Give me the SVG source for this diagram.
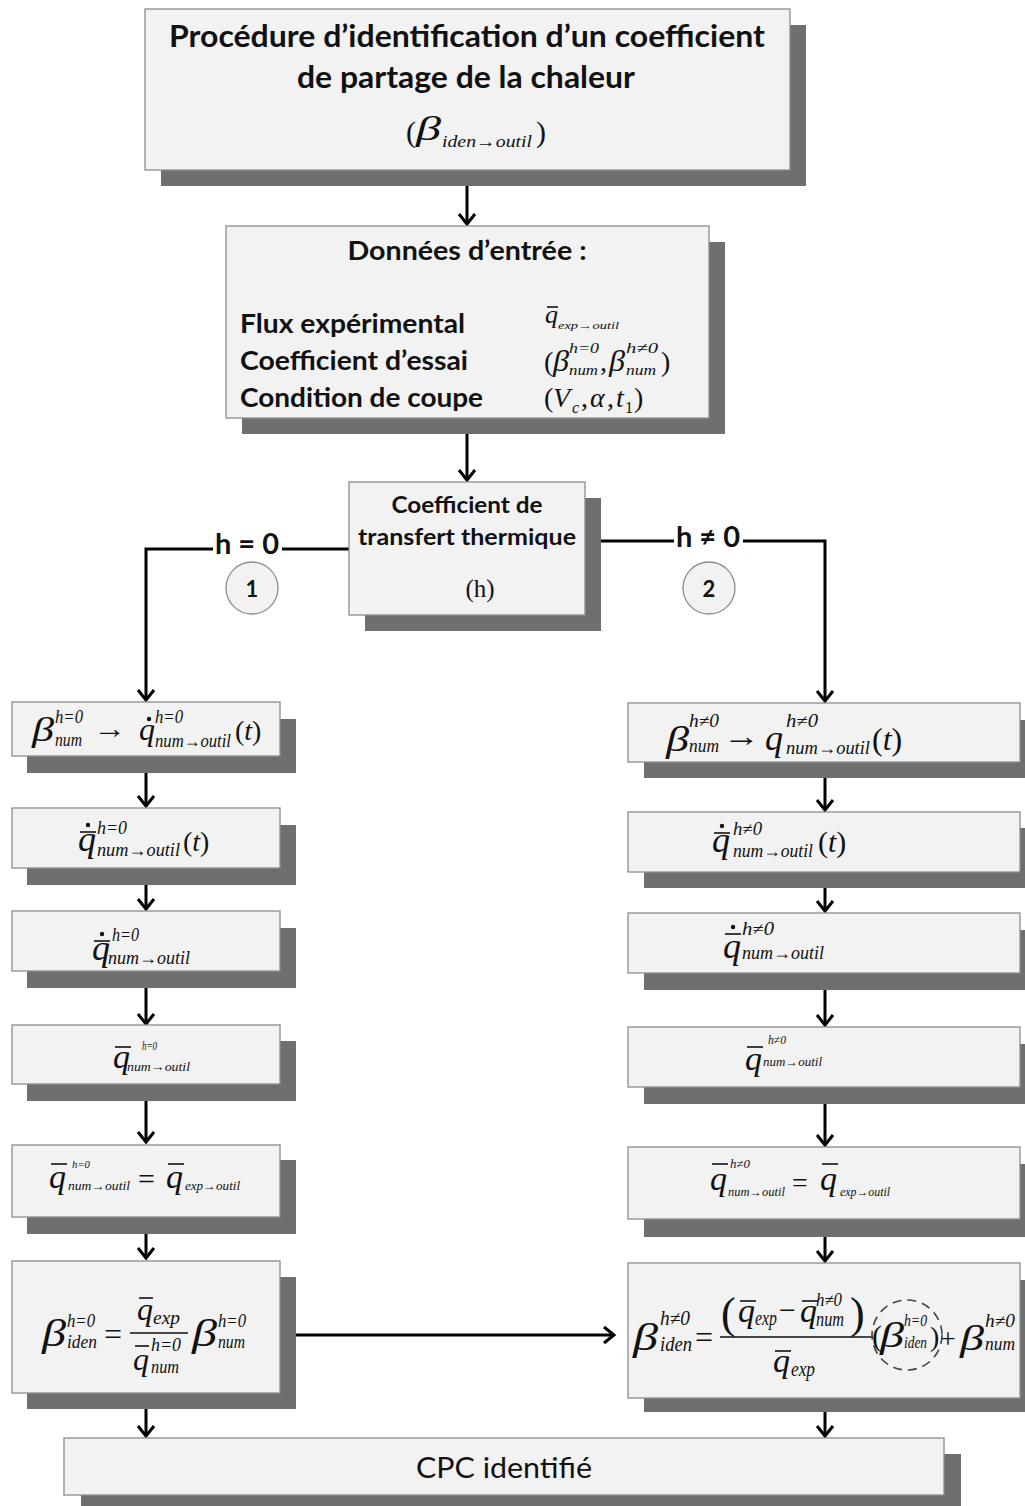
<svg xmlns="http://www.w3.org/2000/svg" width="1025" height="1506" viewBox="0 0 1025 1506">
<defs>
<style>
.box{fill:#f2f2f2;stroke:#8c8c8c;stroke-width:1.3}
.sh{fill:#6f6f6f}
.t{font-family:Lato,"Open Sans","Liberation Sans",sans-serif;font-weight:bold;fill:#111}
.n{font-family:Lato,"Open Sans","Liberation Sans",sans-serif;fill:#111}
.m{font-family:"Liberation Serif","Times New Roman",serif;font-style:italic;fill:#111}
.r{font-family:"Liberation Serif","Times New Roman",serif;fill:#111}
.ln{stroke:#000;stroke-width:3;fill:none}
.bar{stroke:#111;stroke-width:1.6}
.circ{fill:#f2f2f2;stroke:#8c8c8c;stroke-width:1.3}
</style>
<marker id="ah" markerUnits="userSpaceOnUse" markerWidth="24" markerHeight="24" viewBox="-12 -12 24 24" refX="0" refY="0" orient="auto">
<path d="M-10,-8 L0,0 L-10,8" fill="none" stroke="#000" stroke-width="3"/>
</marker>
</defs>
<rect width="1025" height="1506" fill="#fff"/>

<!-- connectors -->
<g id="connectors">
<line class="ln" x1="467" y1="171" x2="467" y2="224" marker-end="url(#ah)"/>
<line class="ln" x1="467" y1="418" x2="467" y2="480" marker-end="url(#ah)"/>
<polyline class="ln" points="349,549 146,549 146,700" marker-end="url(#ah)"/>
<polyline class="ln" points="601,541 825,541 825,701" marker-end="url(#ah)"/>
<line class="ln" x1="146" y1="757" x2="146" y2="806" marker-end="url(#ah)"/>
<line class="ln" x1="146" y1="869" x2="146" y2="909" marker-end="url(#ah)"/>
<line class="ln" x1="146" y1="972" x2="146" y2="1024" marker-end="url(#ah)"/>
<line class="ln" x1="146" y1="1085" x2="146" y2="1142" marker-end="url(#ah)"/>
<line class="ln" x1="146" y1="1218" x2="146" y2="1258" marker-end="url(#ah)"/>
<line class="ln" x1="146" y1="1394" x2="146" y2="1436" marker-end="url(#ah)"/>
<line class="ln" x1="825" y1="763" x2="825" y2="810" marker-end="url(#ah)"/>
<line class="ln" x1="825" y1="873" x2="825" y2="911" marker-end="url(#ah)"/>
<line class="ln" x1="825" y1="974" x2="825" y2="1025" marker-end="url(#ah)"/>
<line class="ln" x1="825" y1="1088" x2="825" y2="1145" marker-end="url(#ah)"/>
<line class="ln" x1="825" y1="1220" x2="825" y2="1261" marker-end="url(#ah)"/>
<line class="ln" x1="825" y1="1399" x2="825" y2="1436" marker-end="url(#ah)"/>
<line class="ln" x1="296" y1="1335" x2="614" y2="1335" marker-end="url(#ah)"/>
</g>

<!-- branch labels -->
<g id="label-h0">
<rect x="213" y="523" width="69" height="44" fill="#fff"/>
<text class="t" x="247" y="554" font-size="29" text-anchor="middle">h = 0</text>
</g>
<g id="label-hn0">
<rect x="674" y="516" width="69" height="42" fill="#fff"/>
<text class="t" x="708" y="547" font-size="29" text-anchor="middle">h ≠ 0</text>
</g>
<g id="circle-1">
<circle class="circ" cx="252" cy="588" r="26"/>
<text class="t" x="252" y="597" font-size="22" text-anchor="middle">1</text>
</g>
<g id="circle-2">
<circle class="circ" cx="709" cy="588" r="26"/>
<text class="t" x="709" y="597" font-size="22" text-anchor="middle">2</text>
</g>

<!-- title -->
<g id="title">
<rect class="sh" x="161" y="25" width="645" height="161"/>
<rect class="box" x="145" y="9" width="645" height="161"/>
<text class="t" x="467" y="47" font-size="30" text-anchor="middle" textLength="596" lengthAdjust="spacingAndGlyphs">Procédure d’identification d’un coefficient</text>
<text class="t" x="466" y="88" font-size="30" text-anchor="middle" textLength="338" lengthAdjust="spacingAndGlyphs">de partage de la chaleur</text>
<text class="r" x="406" y="142" font-size="30">(</text>
<text class="m" x="416" y="140" font-size="34" textLength="25" lengthAdjust="spacingAndGlyphs">β</text>
<text class="m" x="442" y="147" font-size="17" textLength="90" lengthAdjust="spacingAndGlyphs">iden→outil</text>
<text class="r" x="536" y="142" font-size="30">)</text>
</g>

<!-- input data -->
<g id="inputs">
<rect class="sh" x="242" y="242" width="483" height="192"/>
<rect class="box" x="226" y="226" width="483" height="192"/>
<text class="t" x="467" y="260" font-size="26" text-anchor="middle" textLength="239" lengthAdjust="spacingAndGlyphs">Données d’entrée :</text>
<text class="t" x="240" y="333" font-size="26" textLength="225" lengthAdjust="spacingAndGlyphs">Flux expérimental</text>
<text class="t" x="240" y="370" font-size="26" textLength="228" lengthAdjust="spacingAndGlyphs">Coefficient d’essai</text>
<text class="t" x="240" y="407" font-size="26" textLength="243" lengthAdjust="spacingAndGlyphs">Condition de coupe</text>
<text class="m" x="545" y="323" font-size="26">q</text>
<line class="bar" x1="547" y1="307" x2="558" y2="307"/>
<text class="m" x="558" y="329" font-size="11" textLength="61" lengthAdjust="spacingAndGlyphs">exp→outil</text>
<text class="r" x="544" y="371" font-size="28">(</text>
<text class="m" x="553" y="371" font-size="29" textLength="16" lengthAdjust="spacingAndGlyphs">β</text>
<text class="m" x="569" y="353" font-size="15" textLength="30" lengthAdjust="spacingAndGlyphs">h=0</text>
<text class="m" x="569" y="375" font-size="15" textLength="29" lengthAdjust="spacingAndGlyphs">num</text>
<text class="r" x="600" y="371" font-size="28">,</text>
<text class="m" x="609" y="371" font-size="29" textLength="16" lengthAdjust="spacingAndGlyphs">β</text>
<text class="m" x="626" y="353" font-size="15" textLength="32" lengthAdjust="spacingAndGlyphs">h≠0</text>
<text class="m" x="626" y="375" font-size="15" textLength="30" lengthAdjust="spacingAndGlyphs">num</text>
<text class="r" x="661" y="371" font-size="28">)</text>
<text class="r" x="544" y="407" font-size="28">(</text>
<text class="m" x="553" y="407" font-size="28">V</text>
<text class="m" x="572" y="413" font-size="16">c</text>
<text class="r" x="581" y="407" font-size="28">,</text>
<text class="m" x="590" y="407" font-size="28">α</text>
<text class="r" x="607" y="407" font-size="28">,</text>
<text class="m" x="616" y="407" font-size="28">t</text>
<text class="r" x="625" y="413" font-size="16">1</text>
<text class="r" x="634" y="407" font-size="28">)</text>
</g>

<!-- heat transfer coefficient -->
<g id="coef-h">
<rect class="sh" x="365" y="498" width="236" height="133"/>
<rect class="box" x="349" y="482" width="236" height="133"/>
<text class="t" x="467" y="513" font-size="23" text-anchor="middle" textLength="151" lengthAdjust="spacingAndGlyphs">Coefficient de</text>
<text class="t" x="467" y="545" font-size="23" text-anchor="middle" textLength="218" lengthAdjust="spacingAndGlyphs">transfert thermique</text>
<text class="r" x="480" y="597" font-size="25" text-anchor="middle">(h)</text>
</g>

<!-- left column -->
<g id="L1">
<rect class="sh" x="27" y="719" width="269" height="54"/>
<rect class="box" x="12" y="702" width="268" height="54"/>
<text class="m" x="32" y="741" font-size="34" textLength="22" lengthAdjust="spacingAndGlyphs">β</text>
<text class="m" x="55" y="723" font-size="18" textLength="28" lengthAdjust="spacingAndGlyphs">h=0</text>
<text class="m" x="55" y="746" font-size="18" textLength="27" lengthAdjust="spacingAndGlyphs">num</text>
<text class="r" x="93" y="738" font-size="28" textLength="33" lengthAdjust="spacingAndGlyphs">→</text>
<text class="m" x="139" y="740" font-size="32">q</text>
<circle cx="149" cy="719" r="2.2" fill="#111"/>
<text class="m" x="155" y="723" font-size="18" textLength="28" lengthAdjust="spacingAndGlyphs">h=0</text>
<text class="m" x="155" y="747" font-size="18" textLength="76" lengthAdjust="spacingAndGlyphs">num→outil</text>
<text class="r" x="235" y="740" font-size="28">(<tspan class="m">t</tspan>)</text>
</g>
<g id="L2">
<rect class="sh" x="27" y="825" width="269" height="60"/>
<rect class="box" x="12" y="808" width="268" height="60"/>
<text class="m" x="78" y="851" font-size="36">q</text>
<line class="bar" x1="80" y1="832" x2="96" y2="832"/>
<circle cx="88" cy="825" r="2.2" fill="#111"/>
<text class="m" x="97" y="834" font-size="18" textLength="30" lengthAdjust="spacingAndGlyphs">h=0</text>
<text class="m" x="97" y="856" font-size="18" textLength="83" lengthAdjust="spacingAndGlyphs">num→outil</text>
<text class="r" x="183" y="851" font-size="28">(<tspan class="m">t</tspan>)</text>
</g>
<g id="L3">
<rect class="sh" x="27" y="928" width="269" height="60"/>
<rect class="box" x="12" y="911" width="268" height="60"/>
<text class="m" x="92" y="960" font-size="36">q</text>
<line class="bar" x1="94" y1="941" x2="110" y2="941"/>
<circle cx="102" cy="934" r="2.2" fill="#111"/>
<text class="m" x="112" y="941" font-size="18" textLength="27" lengthAdjust="spacingAndGlyphs">h=0</text>
<text class="m" x="108" y="964" font-size="18" textLength="82" lengthAdjust="spacingAndGlyphs">num→outil</text>
</g>
<g id="L4">
<rect class="sh" x="27" y="1041" width="269" height="60"/>
<rect class="box" x="12" y="1025" width="268" height="59"/>
<text class="m" x="113" y="1068" font-size="34">q</text>
<line class="bar" x1="115" y1="1047" x2="131" y2="1047"/>
<text class="m" x="142" y="1050" font-size="12" textLength="15" lengthAdjust="spacingAndGlyphs">h=0</text>
<text class="m" x="127" y="1071" font-size="13" textLength="63" lengthAdjust="spacingAndGlyphs">num→outil</text>
</g>
<g id="L5">
<rect class="sh" x="27" y="1160" width="269" height="74"/>
<rect class="box" x="12" y="1145" width="268" height="72"/>
<text class="m" x="49" y="1188" font-size="34">q</text>
<line class="bar" x1="51" y1="1164" x2="67" y2="1164"/>
<text class="m" x="72" y="1168" font-size="11" textLength="18" lengthAdjust="spacingAndGlyphs">h=0</text>
<text class="m" x="68" y="1190" font-size="12" textLength="62" lengthAdjust="spacingAndGlyphs">num→outil</text>
<text class="r" x="138" y="1189" font-size="30">=</text>
<text class="m" x="166" y="1188" font-size="34">q</text>
<line class="bar" x1="168" y1="1164" x2="184" y2="1164"/>
<text class="m" x="185" y="1190" font-size="12" textLength="55" lengthAdjust="spacingAndGlyphs">exp→outil</text>
</g>
<g id="L6">
<rect class="sh" x="27" y="1277" width="269" height="132"/>
<rect class="box" x="12" y="1261" width="268" height="132"/>
<text class="m" x="42" y="1346" font-size="38" textLength="24" lengthAdjust="spacingAndGlyphs">β</text>
<text class="m" x="67" y="1327" font-size="18" textLength="28" lengthAdjust="spacingAndGlyphs">h=0</text>
<text class="m" x="67" y="1348" font-size="18" textLength="30" lengthAdjust="spacingAndGlyphs">iden</text>
<text class="r" x="104" y="1345" font-size="32">=</text>
<line class="bar" x1="130" y1="1333" x2="188" y2="1333"/>
<text class="m" x="137" y="1320" font-size="32">q</text>
<line class="bar" x1="139" y1="1298" x2="153" y2="1298"/>
<text class="m" x="153" y="1324" font-size="18" textLength="27" lengthAdjust="spacingAndGlyphs">exp</text>
<text class="m" x="133" y="1370" font-size="32">q</text>
<line class="bar" x1="135" y1="1346" x2="149" y2="1346"/>
<text class="m" x="151" y="1351" font-size="18" textLength="30" lengthAdjust="spacingAndGlyphs">h=0</text>
<text class="m" x="151" y="1373" font-size="18" textLength="28" lengthAdjust="spacingAndGlyphs">num</text>
<text class="m" x="192" y="1346" font-size="38" textLength="25" lengthAdjust="spacingAndGlyphs">β</text>
<text class="m" x="218" y="1327" font-size="18" textLength="28" lengthAdjust="spacingAndGlyphs">h=0</text>
<text class="m" x="218" y="1348" font-size="18" textLength="27" lengthAdjust="spacingAndGlyphs">num</text>
</g>

<!-- right column -->
<g id="R1">
<rect class="sh" x="644" y="720" width="381" height="58"/>
<rect class="box" x="628" y="703" width="392" height="59"/>
<text class="m" x="666" y="751" font-size="36" textLength="23" lengthAdjust="spacingAndGlyphs">β</text>
<text class="m" x="689" y="727" font-size="18" textLength="30" lengthAdjust="spacingAndGlyphs">h≠0</text>
<text class="m" x="689" y="752" font-size="18" textLength="30" lengthAdjust="spacingAndGlyphs">num</text>
<text class="r" x="723" y="746" font-size="30" textLength="37" lengthAdjust="spacingAndGlyphs">→</text>
<text class="m" x="765" y="750" font-size="36">q</text>
<text class="m" x="786" y="727" font-size="18" textLength="32" lengthAdjust="spacingAndGlyphs">h≠0</text>
<text class="m" x="786" y="754" font-size="18" textLength="84" lengthAdjust="spacingAndGlyphs">num→outil</text>
<text class="r" x="872" y="750" font-size="32">(<tspan class="m">t</tspan>)</text>
</g>
<g id="R2">
<rect class="sh" x="644" y="828" width="381" height="60"/>
<rect class="box" x="628" y="812" width="392" height="60"/>
<text class="m" x="712" y="852" font-size="36">q</text>
<line class="bar" x1="714" y1="833" x2="730" y2="833"/>
<circle cx="722" cy="826" r="2.2" fill="#111"/>
<text class="m" x="733" y="835" font-size="18" textLength="29" lengthAdjust="spacingAndGlyphs">h≠0</text>
<text class="m" x="733" y="857" font-size="18" textLength="80" lengthAdjust="spacingAndGlyphs">num→outil</text>
<text class="r" x="818" y="852" font-size="30">(<tspan class="m">t</tspan>)</text>
</g>
<g id="R3">
<rect class="sh" x="644" y="930" width="381" height="60"/>
<rect class="box" x="628" y="913" width="392" height="60"/>
<text class="m" x="723" y="958" font-size="36">q</text>
<line class="bar" x1="725" y1="934" x2="741" y2="934"/>
<circle cx="733" cy="927" r="2.2" fill="#111"/>
<text class="m" x="742" y="935" font-size="18" textLength="32" lengthAdjust="spacingAndGlyphs">h≠0</text>
<text class="m" x="742" y="959" font-size="18" textLength="82" lengthAdjust="spacingAndGlyphs">num→outil</text>
</g>
<g id="R4">
<rect class="sh" x="644" y="1044" width="381" height="60"/>
<rect class="box" x="628" y="1027" width="392" height="60"/>
<text class="m" x="745" y="1070" font-size="34">q</text>
<line class="bar" x1="747" y1="1047" x2="763" y2="1047"/>
<text class="m" x="768" y="1044" font-size="12" textLength="18" lengthAdjust="spacingAndGlyphs">h≠0</text>
<text class="m" x="763" y="1066" font-size="12" textLength="59" lengthAdjust="spacingAndGlyphs">num→outil</text>
</g>
<g id="R5">
<rect class="sh" x="644" y="1164" width="381" height="73"/>
<rect class="box" x="628" y="1147" width="392" height="72"/>
<text class="m" x="710" y="1190" font-size="34">q</text>
<line class="bar" x1="712" y1="1164" x2="728" y2="1164"/>
<text class="m" x="730" y="1168" font-size="12" textLength="20" lengthAdjust="spacingAndGlyphs">h≠0</text>
<text class="m" x="728" y="1196" font-size="12" textLength="57" lengthAdjust="spacingAndGlyphs">num→outil</text>
<text class="r" x="792" y="1192" font-size="28">=</text>
<text class="m" x="820" y="1190" font-size="34">q</text>
<line class="bar" x1="822" y1="1164" x2="838" y2="1164"/>
<text class="m" x="840" y="1196" font-size="12" textLength="50" lengthAdjust="spacingAndGlyphs">exp→outil</text>
</g>
<g id="R6">
<rect class="sh" x="644" y="1280" width="381" height="132"/>
<rect class="box" x="628" y="1263" width="392" height="135"/>
<text class="m" x="633" y="1350" font-size="38" textLength="25" lengthAdjust="spacingAndGlyphs">β</text>
<text class="m" x="660" y="1325" font-size="20" textLength="30" lengthAdjust="spacingAndGlyphs">h≠0</text>
<text class="m" x="660" y="1351" font-size="20" textLength="32" lengthAdjust="spacingAndGlyphs">iden</text>
<text class="r" x="695" y="1348" font-size="32">=</text>
<line class="bar" x1="720" y1="1337" x2="873" y2="1337"/>
<text class="r" x="721" y="1328" font-size="44">(</text>
<text class="m" x="738" y="1322" font-size="34">q</text>
<line class="bar" x1="740" y1="1301" x2="756" y2="1301"/>
<text class="m" x="755" y="1325" font-size="20" textLength="22" lengthAdjust="spacingAndGlyphs">exp</text>
<text class="r" x="779" y="1320" font-size="30">−</text>
<text class="m" x="800" y="1322" font-size="34">q</text>
<line class="bar" x1="802" y1="1301" x2="818" y2="1301"/>
<text class="m" x="816" y="1306" font-size="18" textLength="26" lengthAdjust="spacingAndGlyphs">h≠0</text>
<text class="m" x="816" y="1326" font-size="20" textLength="28" lengthAdjust="spacingAndGlyphs">num</text>
<text class="r" x="850" y="1328" font-size="44">)</text>
<text class="m" x="773" y="1372" font-size="34">q</text>
<line class="bar" x1="775" y1="1351" x2="791" y2="1351"/>
<text class="m" x="791" y="1376" font-size="20" textLength="24" lengthAdjust="spacingAndGlyphs">exp</text>
<text class="r" x="872" y="1346" font-size="30">(</text>
<text class="m" x="880" y="1347" font-size="36" textLength="24" lengthAdjust="spacingAndGlyphs">β</text>
<text class="m" x="904" y="1326" font-size="17" textLength="23" lengthAdjust="spacingAndGlyphs">h=0</text>
<text class="m" x="904" y="1348" font-size="17" textLength="23" lengthAdjust="spacingAndGlyphs">iden</text>
<text class="r" x="930" y="1346" font-size="28">)</text>
<text class="r" x="940" y="1348" font-size="28">+</text>
<text class="m" x="960" y="1350" font-size="36" textLength="24" lengthAdjust="spacingAndGlyphs">β</text>
<text class="m" x="985" y="1327" font-size="18" textLength="30" lengthAdjust="spacingAndGlyphs">h≠0</text>
<text class="m" x="985" y="1350" font-size="18" textLength="30" lengthAdjust="spacingAndGlyphs">num</text>
<ellipse cx="907" cy="1335" rx="35" ry="35" fill="none" stroke="#444" stroke-width="1.6" stroke-dasharray="9 6"/>
</g>

<!-- result -->
<g id="result">
<rect class="sh" x="81" y="1454" width="880" height="52"/>
<rect class="box" x="64" y="1438" width="880" height="57"/>
<text class="n" x="504" y="1478" font-size="29" text-anchor="middle" textLength="176" lengthAdjust="spacingAndGlyphs">CPC identifié</text>
</g>
</svg>
